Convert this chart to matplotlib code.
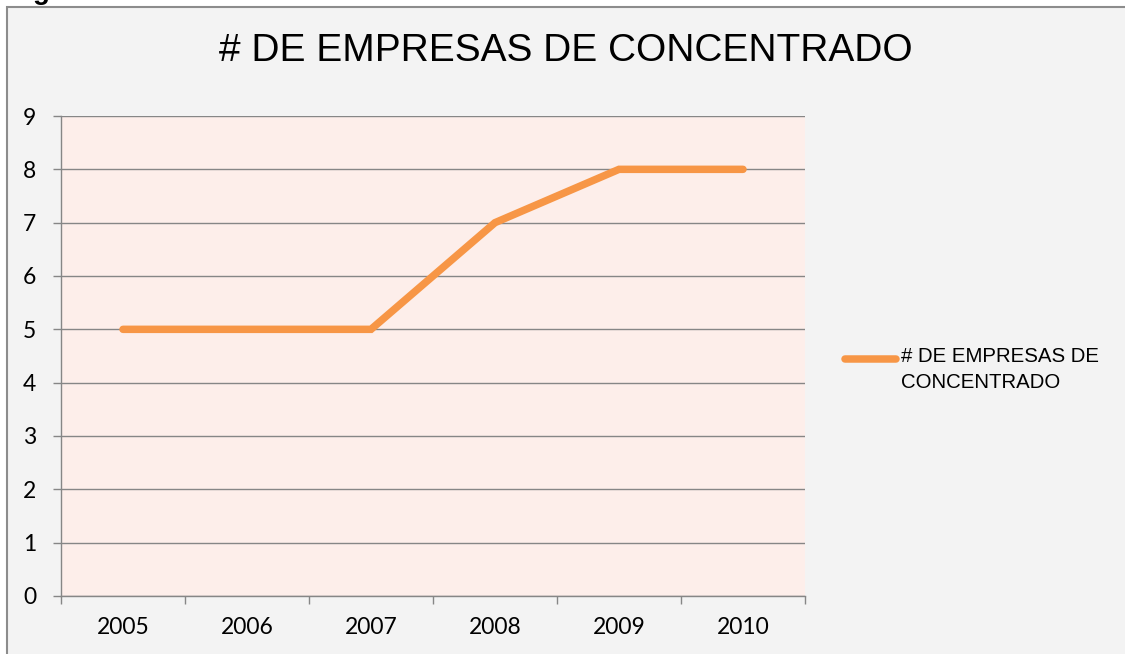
import matplotlib.pyplot as plt
from matplotlib.patches import Rectangle
from matplotlib.lines import Line2D

years = ['2005', '2006', '2007', '2008', '2009', '2010']
empresas = [5, 5, 5, 7, 8, 8]
serie = '# DE EMPRESAS DE CONCENTRADO'

W, H = 1125, 654
narrow = ['Liberation Sans Narrow', 'Liberation Sans', 'DejaVu Sans']
fig = plt.figure(figsize=(W / 100, H / 100), dpi=100, facecolor='white')

# outer chart frame
fig.patches.append(Rectangle((7 / W, -0.05), 1.1, 1 - 7 / H + 0.05, transform=fig.transFigure,
                             facecolor='#f3f3f3', edgecolor='#8c8c8c', linewidth=1.5, zorder=-5))
# cut-off caption letter above frame
fig.text(33 / W, 1 + 1 / H, 'g', fontsize=20, fontweight='bold', family=narrow, va='baseline')

ax = fig.add_axes([61 / W, 1 - 596 / H, (805 - 61) / W, (596 - 116) / H])
ax.set_facecolor('#fdeeea')
x = list(range(len(years)))
ax.plot(x, empresas, color='#f79646', linewidth=5.4, solid_capstyle='round', solid_joinstyle='miter', zorder=3)

ax.set_xlim(-0.5, len(years) - 0.5)
ax.set_ylim(0, 9)
ax.set_yticks(range(10))
ax.grid(axis='y', color='#868686', linewidth=1)
ax.set_xticks([i - 0.5 for i in range(len(years) + 1)])
ax.set_xticklabels([])
ax.set_xticks(x, minor=True)
ax.set_xticklabels(years, minor=True, fontsize=16.5, family=['Lato', 'DejaVu Sans'])
ax.tick_params(axis='x', which='minor', length=0, pad=15)
ax.tick_params(axis='x', which='major', length=5.8, color='#868686', width=1)
ax.tick_params(axis='y', length=5.8, color='#868686', width=1, pad=12, labelsize=16.5)
for lab in ax.get_yticklabels():
    lab.set_family(['Lato', 'DejaVu Sans'])
for s in ['top', 'right']:
    ax.spines[s].set_visible(False)
for s in ['left', 'bottom']:
    ax.spines[s].set_color('#868686')
    ax.spines[s].set_linewidth(1)

fig.text(566 / W, 1 - 51 / H, serie, fontsize=28, family=narrow, ha='center', va='center')

# legend
fig.lines.append(Line2D([845 / W, 896 / W], [1 - 359 / H, 1 - 359 / H], transform=fig.transFigure,
                        color='#f79646', linewidth=5.4, solid_capstyle='round'))
fig.text(901 / W, 1 - 347 / H, '# DE EMPRESAS DE\nCONCENTRADO', fontsize=14.7, family=narrow,
         ha='left', va='top', linespacing=1.45, transform=fig.transFigure)

fig.savefig('out.png', dpi=100, facecolor='white')
